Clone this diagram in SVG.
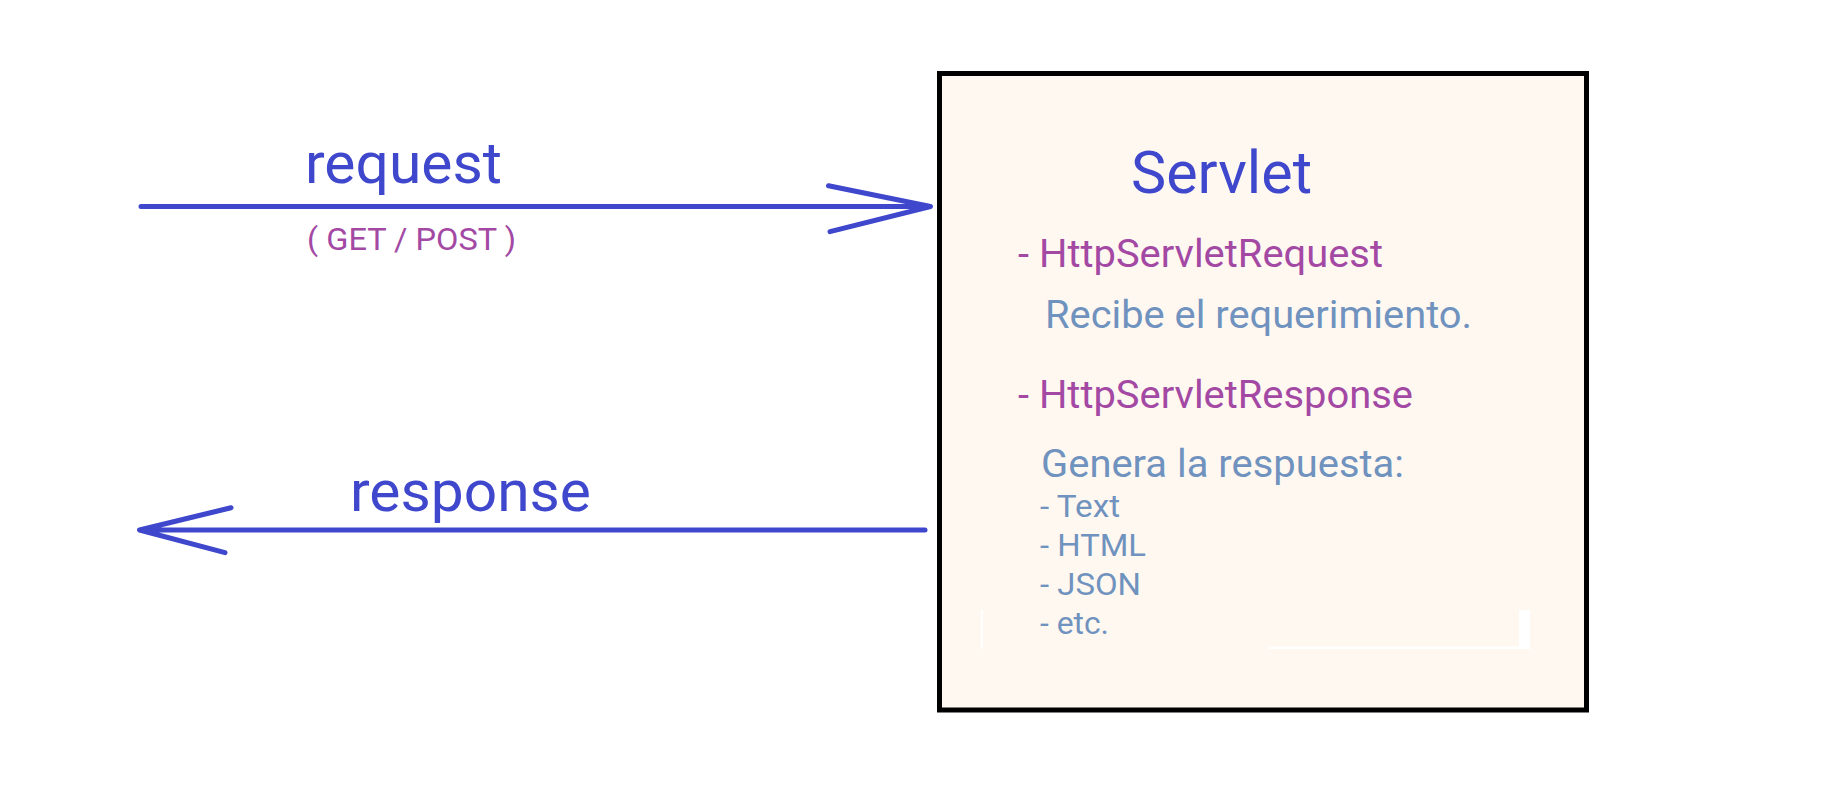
<svg xmlns="http://www.w3.org/2000/svg" width="1846" height="808" viewBox="0 0 1846 808">
<style>
.t{font-family:Roboto,"Liberation Sans",sans-serif}
.blue{fill:#3F48CC}
.purple{fill:#A349A4}
.gray{fill:#7092BE}
.conn{stroke:#3F48CC;stroke-width:5;stroke-linecap:round;stroke-linejoin:round;fill:none}
</style>
<rect width="1846" height="808" fill="#FFFFFF"/>
<g id="servlet">
<rect x="939.5" y="73.5" width="647" height="636.5" fill="#FFF8F1" stroke="#000000" stroke-width="5"/>
<rect x="981" y="610" width="2" height="38.5" fill="#FFFFFF"/>
<rect x="1269" y="646.5" width="261" height="2.5" fill="#FFFFFF"/>
<rect x="1519" y="610" width="11" height="39" fill="#FFFFFF"/>
<text class="t blue" x="1131" y="193" font-size="59" textLength="181" lengthAdjust="spacingAndGlyphs">Servlet</text>
<text class="t purple" x="1018" y="267" font-size="38" textLength="365" lengthAdjust="spacingAndGlyphs">- HttpServletRequest</text>
<text class="t gray" x="1045" y="328" font-size="38" textLength="427" lengthAdjust="spacingAndGlyphs">Recibe el requerimiento.</text>
<text class="t purple" x="1018" y="408" font-size="38" textLength="395" lengthAdjust="spacingAndGlyphs">- HttpServletResponse</text>
<text class="t gray" x="1041" y="477" font-size="38" textLength="363" lengthAdjust="spacingAndGlyphs">Genera la respuesta:</text>
<text class="t gray" x="1040" y="517" font-size="31" textLength="80" lengthAdjust="spacingAndGlyphs">- Text</text>
<text class="t gray" x="1040" y="556" font-size="31" textLength="106" lengthAdjust="spacingAndGlyphs">- HTML</text>
<text class="t gray" x="1040" y="595" font-size="31" textLength="101" lengthAdjust="spacingAndGlyphs">- JSON</text>
<text class="t gray" x="1040" y="634" font-size="31" textLength="69" lengthAdjust="spacingAndGlyphs">- etc.</text>
</g>
<g id="connectors">
<g id="request">
<path class="conn" d="M141 206.5 H930 M828.5 185.7 L930.5 206.5 L830 231.7"/>
<text class="t blue" x="305" y="182.5" font-size="57" textLength="197" lengthAdjust="spacingAndGlyphs">request</text>
<text class="t purple" x="307" y="250" font-size="31" textLength="209" lengthAdjust="spacingAndGlyphs">( GET / POST )</text>
</g>
<g id="response">
<path class="conn" d="M925 530 H140 M231 507.7 L139.5 530 L225 552.7"/>
<text class="t blue" x="350" y="510.5" font-size="57" textLength="241" lengthAdjust="spacingAndGlyphs">response</text>
</g>
</g>
</svg>
